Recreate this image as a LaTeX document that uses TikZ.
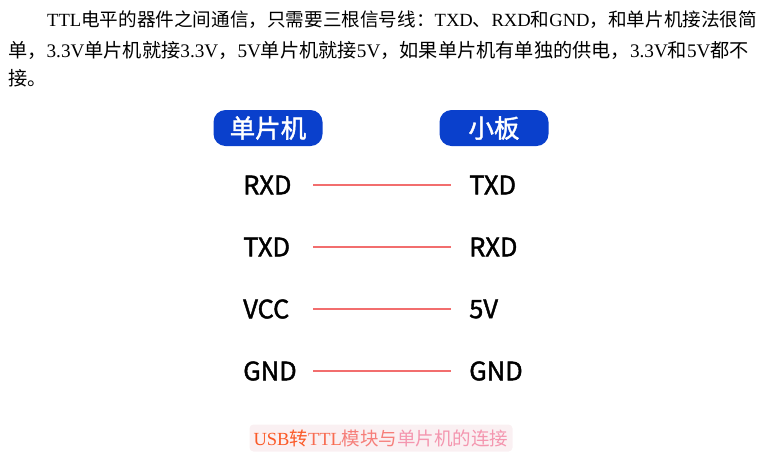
\documentclass[tikz,border=0pt]{standalone}
\usepackage{fontspec}
\newfontfamily\cjk{Noto Sans CJK SC}
\newfontfamily\cjkmid[FakeBold=1.6]{Noto Sans CJK SC}
\newfontfamily\serifen{Liberation Serif}
\newcommand{\en}[1]{{\serifen #1}}
\definecolor{pillblue}{RGB}{10,64,204}
\definecolor{wirered}{RGB}{242,110,110}
\definecolor{capbg}{RGB}{250,240,242}
\definecolor{caporange}{RGB}{250,90,40}
\definecolor{cappink}{RGB}{244,150,175}
\tikzset{
  pill/.style={fill=pillblue, rounded corners=12pt, minimum width=109pt, minimum height=36pt, text=white, font=\cjkmid\fontsize{25.5}{25.5}\selectfont},
  pin/.style={anchor=west, inner sep=0pt, font=\cjkmid\fontsize{25.5}{25.5}\selectfont},
  wire/.style={draw=wirered, line width=1.6pt},
  para/.style={anchor=west, inner sep=0pt, font=\cjk\fontsize{19.2}{19.2}\selectfont}
}
\begin{document}
\begin{tikzpicture}[x=1pt,y=-1pt]
        \useasboundingbox (0,0) rectangle (765,459);
        % paragraph
        \node[para, font=\cjk\fontsize{18.6}{18.6}\selectfont] (p1) at (47,20) {\en{TTL}电平的器件之间通信，只需要三根信号线：\en{TXD}、\en{RXD}和\en{GND}，和单片机接法很简};
        \node[para] (p2) at (8,50) {单，\en{3.3V}单片机就接\en{3.3V}，\en{5V}单片机就接\en{5V}，如果单片机有单独的供电，\en{3.3V}和\en{5V}都不};
        \node[para] (p3) at (8,78) {接。};

        % headers
        \node[pill] (mcu) at (268,128) {单片机};
        \node[pill] (board) at (494,128) {小板};

        % pins
        \node[pin] (m1) at (243,185) {RXD};
        \node[pin] (m2) at (243,247) {TXD};
        \node[pin] (m3) at (243,309) {VCC};
        \node[pin] (m4) at (243,371) {GND};
        \node[pin] (b1) at (469,185) {TXD};
        \node[pin] (b2) at (469,247) {RXD};
        \node[pin] (b3) at (469,309) {5V};
        \node[pin] (b4) at (469,371) {GND};

        % wires
        \coordinate (w1a) at (313,185); \coordinate (w1b) at (451,185);
        \coordinate (w2a) at (313,247); \coordinate (w2b) at (451,247);
        \coordinate (w3a) at (313,309); \coordinate (w3b) at (451,309);
        \coordinate (w4a) at (313,371); \coordinate (w4b) at (451,371);
        \draw[wire] (w1a) -- (w1b);
        \draw[wire] (w2a) -- (w2b);
        \draw[wire] (w3a) -- (w3b);
        \draw[wire] (w4a) -- (w4b);

        % caption
        \node[fill=capbg, rounded corners=4pt, minimum width=263pt, minimum height=27pt, inner sep=0pt] (cap) at (381,438)
          {\cjk\fontsize{18.5}{18.5}\selectfont\textcolor{caporange}{\en{USB}转}\textcolor{caporange!70!cappink}{\en{TTL}}\textcolor{caporange!40!cappink}{模块与}\textcolor{cappink}{单片机的连接}};
    \end{tikzpicture}
\end{document}
